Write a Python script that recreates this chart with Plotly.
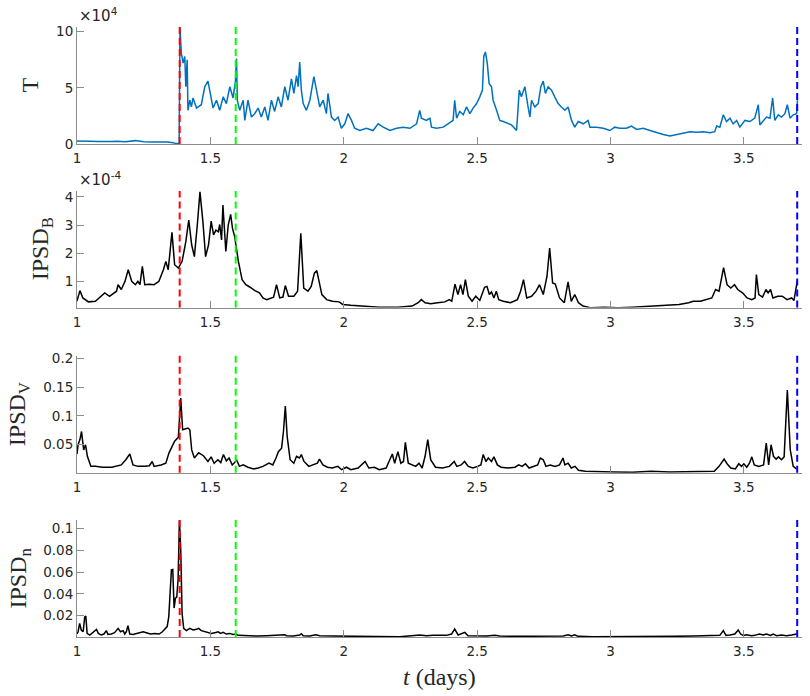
import plotly.graph_objects as go

# ---------------- data ----------------
x_tick_vals = [1, 1.5, 2, 2.5, 3, 3.5]
x_tick_text = ["1", "1.5", "2", "2.5", "3", "3.5"]

event_t = [1.385, 1.595, 3.700]
event_colors = ["#ff0000", "#00ff00", "#0000ff"]

# Panel 1: T (values in units of 1e4)
T_t = [1.000, 1.020, 1.050, 1.080, 1.100, 1.130, 1.150, 1.180, 1.220, 1.250,
       1.280, 1.310, 1.340, 1.360, 1.370, 1.383, 1.386, 1.391, 1.398, 1.404,
       1.408, 1.413, 1.416, 1.423, 1.429, 1.435, 1.448, 1.466, 1.479, 1.491,
       1.498, 1.510, 1.523, 1.535, 1.548, 1.560, 1.573, 1.585, 1.594, 1.598,
       1.601, 1.610, 1.623, 1.629, 1.641, 1.654, 1.666, 1.679, 1.691, 1.704,
       1.716, 1.729, 1.741, 1.754, 1.766, 1.779, 1.791, 1.804, 1.813, 1.823,
       1.829, 1.835, 1.841, 1.848, 1.860, 1.873, 1.888, 1.898, 1.910, 1.923,
       1.935, 1.941, 1.954, 1.966, 1.979, 1.991, 2.004, 2.016, 2.029, 2.041,
       2.060, 2.085, 2.110, 2.129, 2.148, 2.173, 2.198, 2.223, 2.248, 2.273,
       2.285, 2.291, 2.310, 2.323, 2.329, 2.348, 2.373, 2.391, 2.410, 2.416,
       2.423, 2.435, 2.448, 2.460, 2.473, 2.485, 2.498, 2.510, 2.520, 2.525,
       2.531, 2.538, 2.545, 2.554, 2.560, 2.573, 2.585, 2.598, 2.616, 2.629,
       2.648, 2.658, 2.666, 2.679, 2.691, 2.698, 2.704, 2.716, 2.729, 2.739,
       2.748, 2.756, 2.766, 2.779, 2.791, 2.804, 2.816, 2.829, 2.841, 2.854,
       2.866, 2.879, 2.898, 2.916, 2.923, 2.948, 2.973, 2.998, 3.016, 3.035,
       3.060, 3.079, 3.098, 3.123, 3.148, 3.173, 3.198, 3.223, 3.248, 3.273,
       3.298, 3.323, 3.348, 3.373, 3.391, 3.398, 3.410, 3.423, 3.435, 3.448,
       3.460, 3.473, 3.485, 3.504, 3.523, 3.541, 3.554, 3.560, 3.573, 3.585,
       3.598, 3.608, 3.616, 3.629, 3.641, 3.654, 3.663, 3.673, 3.685, 3.698,
       3.701]
T_val = [0.27, 0.28, 0.25, 0.22, 0.20, 0.22, 0.24, 0.20, 0.30, 0.20,
         0.18, 0.20, 0.18, 0.12, 0.05, 0.05, 10.40, 8.1, 7.2, 7.8,
         5.1, 7.5, 3.0, 3.9, 3.3, 4.1, 3.2, 3.5, 5.1, 5.6,
         4.7, 3.2, 3.9, 3.0, 4.2, 3.6, 5.1, 4.1, 5.6, 7.6,
         3.9, 3.0, 3.9, 2.1, 3.9, 2.4, 2.7, 3.2, 2.4, 3.3,
         2.1, 3.9, 2.9, 4.2, 3.3, 5.1, 3.9, 5.8, 4.5, 6.1,
         5.1, 7.3, 4.8, 3.6, 3.0, 3.9, 6.0, 4.8, 3.3, 3.9,
         2.7, 4.5, 2.4, 2.1, 2.4, 1.4, 1.8, 2.7, 2.1, 1.4,
         1.2, 1.4, 1.2, 1.8, 1.5, 1.2, 1.4, 1.5, 1.4, 1.8,
         3.0, 2.3, 2.1, 2.3, 1.5, 1.4, 1.5, 1.8, 2.1, 3.9,
         2.3, 2.9, 2.6, 3.3, 2.7, 3.2, 3.6, 4.2, 4.8, 7.8,
         8.2, 7.2, 5.4, 5.1, 3.9, 3.0, 2.1, 2.0, 1.8, 1.7,
         1.2, 4.8, 4.2, 5.1, 3.3, 2.4, 3.9, 3.3, 3.6, 5.1,
         5.6, 4.5, 5.1, 4.8, 4.2, 3.6, 3.3, 3.0, 3.3, 2.1,
         1.5, 2.0, 1.8, 2.1, 1.5, 1.5, 1.4, 1.2, 1.5, 1.4,
         1.4, 1.6, 1.3, 1.4, 1.2, 0.99, 0.84, 0.72, 0.84, 0.99,
         1.1, 1.05, 1.1, 1.0, 1.1, 1.6, 1.5, 2.6, 2.0, 2.3,
         1.8, 2.1, 1.5, 2.1, 2.0, 2.3, 3.5, 1.7, 2.1, 2.4,
         2.3, 4.1, 2.1, 2.6, 2.4, 2.7, 3.5, 2.3, 2.6, 2.7,
         3.9]

# Panel 2: IPSD_B (values in units of 1e-4)
B_t = [1.000, 1.011, 1.022, 1.043, 1.069, 1.104, 1.122, 1.148, 1.154, 1.166,
       1.180, 1.192, 1.205, 1.219, 1.228, 1.236, 1.245, 1.254, 1.271, 1.289,
       1.307, 1.324, 1.333, 1.342, 1.356, 1.366, 1.380, 1.394, 1.408, 1.419,
       1.430, 1.440, 1.451, 1.461, 1.472, 1.482, 1.493, 1.503, 1.512, 1.521,
       1.530, 1.535, 1.542, 1.547, 1.558, 1.567, 1.576, 1.583, 1.591, 1.605,
       1.619, 1.633, 1.649, 1.667, 1.684, 1.697, 1.711, 1.725, 1.737, 1.748,
       1.760, 1.772, 1.781, 1.793, 1.813, 1.827, 1.839, 1.850, 1.866, 1.878,
       1.890, 1.899, 1.908, 1.918, 1.936, 1.957, 1.983, 1.996, 2.027, 2.080,
       2.133, 2.203, 2.256, 2.279, 2.291, 2.305, 2.326, 2.352, 2.379, 2.396,
       2.405, 2.417, 2.428, 2.438, 2.447, 2.456, 2.467, 2.481, 2.495, 2.510,
       2.528, 2.537, 2.546, 2.554, 2.563, 2.572, 2.581, 2.598, 2.625, 2.651,
       2.663, 2.674, 2.686, 2.704, 2.721, 2.734, 2.748, 2.762, 2.772, 2.783,
       2.793, 2.809, 2.827, 2.841, 2.853, 2.866, 2.880, 2.897, 2.924, 2.976,
       3.029, 3.082, 3.152, 3.205, 3.257, 3.293, 3.310, 3.337, 3.363, 3.380,
       3.394, 3.407, 3.424, 3.437, 3.451, 3.465, 3.477, 3.495, 3.512, 3.530,
       3.542, 3.547, 3.556, 3.570, 3.583, 3.591, 3.600, 3.609, 3.627, 3.644,
       3.662, 3.679, 3.688, 3.700]
B_val = [0.30, 0.67, 0.41, 0.27, 0.29, 0.59, 0.47, 0.65, 0.88, 0.71,
         1.00, 1.41, 1.00, 0.88, 1.00, 0.88, 1.53, 0.88, 0.90, 0.88,
         1.00, 1.41, 1.71, 1.41, 2.74, 1.59, 1.47, 1.71, 2.41, 3.18,
         2.29, 1.88, 3.00, 4.18, 3.12, 1.88, 2.29, 3.14, 2.65, 2.82,
         2.76, 3.02, 2.47, 3.71, 2.06, 3.00, 3.38, 2.88, 2.59, 1.71,
         1.06, 0.88, 0.79, 0.67, 0.59, 0.41, 0.35, 0.41, 0.44, 0.88,
         0.41, 0.44, 0.85, 0.47, 0.47, 0.65, 2.71, 0.76, 0.65, 0.82,
         1.29, 1.38, 1.00, 0.53, 0.35, 0.29, 0.27, 0.18, 0.15, 0.12,
         0.08, 0.08, 0.12, 0.24, 0.35, 0.24, 0.20, 0.24, 0.27, 0.35,
         0.29, 0.90, 0.53, 0.88, 0.53, 1.06, 0.47, 0.29, 0.47, 0.32,
         0.79, 0.82, 0.53, 0.62, 0.41, 0.65, 0.35, 0.29, 0.24, 0.35,
         0.65, 1.06, 0.41, 0.47, 0.65, 0.88, 0.53, 1.18, 2.18, 0.94,
         0.90, 0.41, 0.24, 0.98, 0.29, 0.53, 0.24, 0.12, 0.06, 0.08,
         0.06, 0.08, 0.12, 0.14, 0.18, 0.24, 0.29, 0.29, 0.35, 0.41,
         0.71, 0.65, 1.49, 0.88, 0.76, 0.88, 0.71, 0.59, 0.41, 0.35,
         0.41, 1.24, 0.53, 0.44, 0.71, 0.59, 0.71, 0.41, 0.47, 0.47,
         0.35, 0.41, 0.32, 1.00]

# Panel 3: IPSD_V
V_t = [1.000, 1.004, 1.011, 1.017, 1.025, 1.032, 1.039, 1.052, 1.069, 1.096,
       1.131, 1.166, 1.183, 1.198, 1.210, 1.228, 1.254, 1.271, 1.282, 1.289,
       1.315, 1.333, 1.345, 1.356, 1.366, 1.380, 1.389, 1.396, 1.405, 1.416,
       1.423, 1.430, 1.440, 1.456, 1.474, 1.491, 1.503, 1.514, 1.528, 1.539,
       1.549, 1.560, 1.570, 1.582, 1.591, 1.598, 1.609, 1.623, 1.641, 1.662,
       1.679, 1.697, 1.720, 1.734, 1.746, 1.755, 1.767, 1.774, 1.781, 1.788,
       1.799, 1.813, 1.823, 1.834, 1.841, 1.851, 1.869, 1.887, 1.901, 1.909,
       1.922, 1.939, 1.957, 1.978, 1.992, 2.010, 2.027, 2.054, 2.080, 2.094,
       2.115, 2.133, 2.159, 2.182, 2.191, 2.203, 2.214, 2.224, 2.231, 2.242,
       2.256, 2.270, 2.282, 2.294, 2.305, 2.315, 2.326, 2.344, 2.370, 2.396,
       2.414, 2.424, 2.440, 2.453, 2.467, 2.484, 2.502, 2.514, 2.523, 2.533,
       2.542, 2.554, 2.563, 2.576, 2.590, 2.616, 2.642, 2.656, 2.669, 2.681,
       2.695, 2.713, 2.727, 2.737, 2.748, 2.758, 2.774, 2.792, 2.809, 2.822,
       2.829, 2.841, 2.853, 2.867, 2.880, 2.906, 2.959, 3.011, 3.082, 3.152,
       3.222, 3.293, 3.345, 3.389, 3.407, 3.416, 3.426, 3.437, 3.451, 3.468,
       3.481, 3.491, 3.500, 3.511, 3.521, 3.530, 3.539, 3.556, 3.574, 3.584,
       3.593, 3.602, 3.611, 3.621, 3.630, 3.641, 3.651, 3.663, 3.674, 3.685,
       3.697]
V_val = [0.034, 0.050, 0.059, 0.073, 0.041, 0.050, 0.030, 0.0125, 0.0125, 0.011,
         0.011, 0.015, 0.024, 0.034, 0.015, 0.0125, 0.0125, 0.0136, 0.021, 0.0125,
         0.015, 0.018, 0.036, 0.047, 0.056, 0.063, 0.131, 0.076, 0.077, 0.079,
         0.076, 0.041, 0.027, 0.036, 0.031, 0.021, 0.029, 0.018, 0.024, 0.019,
         0.033, 0.022, 0.027, 0.015, 0.019, 0.024, 0.0125, 0.015, 0.011, 0.008,
         0.0096, 0.0125, 0.018, 0.015, 0.027, 0.038, 0.044, 0.073, 0.117, 0.064,
         0.024, 0.018, 0.030, 0.027, 0.033, 0.021, 0.0125, 0.015, 0.018, 0.025,
         0.015, 0.011, 0.0096, 0.0125, 0.0067, 0.011, 0.0067, 0.0096, 0.021, 0.0096,
         0.011, 0.0067, 0.0096, 0.034, 0.018, 0.038, 0.018, 0.021, 0.054, 0.018,
         0.015, 0.0125, 0.018, 0.0096, 0.030, 0.059, 0.024, 0.011, 0.0096, 0.0125,
         0.021, 0.0125, 0.015, 0.021, 0.0125, 0.0096, 0.0125, 0.015, 0.033, 0.021,
         0.027, 0.021, 0.029, 0.015, 0.011, 0.0096, 0.011, 0.015, 0.0125, 0.017,
         0.0096, 0.0125, 0.015, 0.027, 0.024, 0.0125, 0.015, 0.0125, 0.015, 0.027,
         0.015, 0.018, 0.0096, 0.0125, 0.0056, 0.0039, 0.0027, 0.0027, 0.0021, 0.0039,
         0.0027, 0.0027, 0.0033, 0.0039, 0.0125, 0.018, 0.025, 0.017, 0.0096, 0.008,
         0.017, 0.0125, 0.017, 0.011, 0.018, 0.029, 0.015, 0.0125, 0.015, 0.053,
         0.015, 0.050, 0.030, 0.025, 0.029, 0.024, 0.029, 0.145, 0.041, 0.0125,
         0.008]

# Panel 4: IPSD_n
N_t = [1.000, 1.004, 1.010, 1.016, 1.023, 1.029, 1.033, 1.038, 1.048, 1.058,
       1.066, 1.073, 1.080, 1.091, 1.101, 1.110, 1.116, 1.129, 1.141, 1.154,
       1.163, 1.173, 1.179, 1.185, 1.191, 1.198, 1.210, 1.229, 1.248, 1.260,
       1.275, 1.291, 1.308, 1.320, 1.329, 1.338, 1.344, 1.349, 1.354, 1.359,
       1.364, 1.369, 1.374, 1.379, 1.384, 1.389, 1.394, 1.400, 1.410, 1.423,
       1.435, 1.448, 1.456, 1.466, 1.479, 1.491, 1.504, 1.520, 1.529, 1.538,
       1.548, 1.560, 1.573, 1.585, 1.595, 1.604, 1.635, 1.673, 1.710, 1.748,
       1.779, 1.785, 1.810, 1.835, 1.841, 1.848, 1.873, 1.895, 1.910, 1.960,
       2.023, 2.085, 2.148, 2.210, 2.285, 2.310, 2.335, 2.360, 2.385, 2.404,
       2.416, 2.429, 2.441, 2.454, 2.466, 2.498, 2.535, 2.566, 2.585, 2.648,
       2.710, 2.773, 2.823, 2.841, 2.854, 2.866, 2.879, 2.935, 2.998, 3.085,
       3.160, 3.235, 3.310, 3.385, 3.410, 3.423, 3.433, 3.448, 3.466, 3.479,
       3.488, 3.498, 3.510, 3.529, 3.541, 3.558, 3.573, 3.585, 3.600, 3.610,
       3.623, 3.641, 3.660, 3.679, 3.698]
N_val = [0.0032, 0.0053, 0.013, 0.0069, 0.0053, 0.019, 0.0197, 0.0038, 0.0023, 0.0044,
         0.0069, 0.0075, 0.0038, 0.0023, 0.0032, 0.0063, 0.0029, 0.0032, 0.0044, 0.0084,
         0.0053, 0.0063, 0.0032, 0.0053, 0.0108, 0.0032, 0.0029, 0.0038, 0.0053, 0.0044,
         0.0032, 0.0038, 0.0032, 0.0053, 0.0075, 0.010, 0.019, 0.0435, 0.062, 0.0624,
         0.027, 0.036, 0.037, 0.053, 0.1076, 0.080, 0.022, 0.0084, 0.0063, 0.0084,
         0.0069, 0.0075, 0.0084, 0.0063, 0.0053, 0.0044, 0.0038, 0.0047, 0.0053, 0.0038,
         0.0047, 0.0032, 0.0038, 0.0029, 0.0032, 0.0020, 0.0017, 0.0014, 0.0017, 0.0020,
         0.0026, 0.0017, 0.0014, 0.0023, 0.0035, 0.0017, 0.0014, 0.0026, 0.0017, 0.0014,
         0.0011, 0.0011, 0.0007, 0.0007, 0.0023, 0.0017, 0.0020, 0.0023, 0.0020, 0.0032,
         0.0078, 0.0023, 0.0032, 0.0047, 0.0017, 0.0014, 0.0014, 0.0020, 0.0014, 0.0011,
         0.0014, 0.0014, 0.0014, 0.0026, 0.0014, 0.0026, 0.0011, 0.0007, 0.0007, 0.0007,
         0.0011, 0.0011, 0.0014, 0.0014, 0.0020, 0.0063, 0.0020, 0.0023, 0.0032, 0.0069,
         0.0032, 0.0020, 0.0026, 0.0017, 0.0020, 0.0032, 0.0023, 0.0032, 0.0020, 0.0032,
         0.0017, 0.0023, 0.0017, 0.0023, 0.0032]

for a, b in [(T_t, T_val), (B_t, B_val), (V_t, V_val), (N_t, N_val)]:
    assert len(a) == len(b), (len(a), len(b))

panels = [
    dict(t=T_t, v=T_val, color="#0072BD", yrange=[0, 10.42],
         ytickvals=[0, 5, 10], yticktext=["0", "5", "10"],
         title="T", exp="×10<sup>4</sup>", title_x=30),
    dict(t=B_t, v=B_val, color="#000000", yrange=[0.07, 4.21],
         ytickvals=[1, 2, 3, 4], yticktext=["1", "2", "3", "4"],
         title="IPSD<sub>B</sub>", exp="×10<sup>-4</sup>", title_x=42),
    dict(t=V_t, v=V_val, color="#000000", yrange=[0.0015, 0.2045],
         ytickvals=[0.05, 0.1, 0.15, 0.2], yticktext=["0.05", "0.1", "0.15", "0.2"],
         title="IPSD<sub>V</sub>", exp=None, title_x=19),
    dict(t=N_t, v=N_val, color="#000000", yrange=[0.0005, 0.1077],
         ytickvals=[0.02, 0.04, 0.06, 0.08, 0.1],
         yticktext=["0.02", "0.04", "0.06", "0.08", "0.1"],
         title="IPSD<sub>n</sub>", exp=None, title_x=19),
]

# ---------------- layout helpers ----------------
W, H = 810, 696
ML, MR, MT, MB = 77, 8, 27, 59
PW, PH = W - ML - MR, H - MT - MB
panel_px = [(27, 144), (191, 307.5), (355.7, 472.7), (520, 637)]
domains = [[(H - MB - b) / PH, (H - MB - t) / PH] for t, b in panel_px]
domains[0][1] = 1.0
domains[3][0] = 0.0

AX_COLOR = "#8c8c8c"
TICK_FONT = dict(family="DejaVu Sans", size=13.5, color="#262626")
EXP_FONT = dict(family="DejaVu Sans", size=15, color="#262626")
TITLE_FONT = dict(family="Liberation Serif", size=24, color="#262626")

fig = go.Figure()
annotations = []
shapes = []
layout = {}

for i, p in enumerate(panels):
    n = i + 1
    sfx = "" if n == 1 else str(n)
    fig.add_trace(go.Scatter(x=p["t"], y=p["v"], mode="lines",
                             line=dict(color=p["color"], width=1.5),
                             xaxis="x" + sfx, yaxis="y" + sfx,
                             showlegend=False, hoverinfo="skip"))
    layout["xaxis" + sfx] = dict(
        domain=[0, 1], anchor="y" + sfx, range=[1, 3.718],
        tickmode="array", tickvals=x_tick_vals, ticktext=x_tick_text,
        ticks="inside", ticklen=7, tickwidth=1, tickcolor=AX_COLOR,
        ticklabelstandoff=2,
        showline=True, linecolor=AX_COLOR, linewidth=1,
        showgrid=False, zeroline=False, tickfont=TICK_FONT,
    )
    layout["yaxis" + sfx] = dict(
        domain=domains[i], anchor="x" + sfx, range=p["yrange"],
        tickmode="array", tickvals=p["ytickvals"], ticktext=p["yticktext"],
        ticks="inside", ticklen=7, tickwidth=1, tickcolor=AX_COLOR,
        showline=True, linecolor=AX_COLOR, linewidth=1,
        showgrid=False, zeroline=False, tickfont=TICK_FONT,
    )
    for et, ec in zip(event_t, event_colors):
        shapes.append(dict(type="line", xref="x" + sfx, yref="y" + sfx + " domain",
                           x0=et, x1=et, y0=0, y1=1, layer="above",
                           line=dict(color=ec, width=2, dash="7px,4px")))
    # y-axis label
    yc = (domains[i][0] + domains[i][1]) / 2
    annotations.append(dict(text=p["title"], xref="paper", yref="paper",
                            x=(p["title_x"] - ML) / PW, y=yc,
                            xanchor="center", yanchor="middle", textangle=-90,
                            showarrow=False, font=TITLE_FONT))
    if p["exp"]:
        annotations.append(dict(text=p["exp"], xref="x" + sfx + " domain",
                                yref="y" + sfx + " domain", x=0, y=1,
                                xanchor="left", yanchor="bottom", yshift=0,
                                showarrow=False, font=EXP_FONT))

annotations.append(dict(text="<i>t</i> (days)", xref="paper", yref="paper",
                        x=0.5, y=(H - MB - 677) / PH, xanchor="center",
                        yanchor="middle", showarrow=False, font=TITLE_FONT))

fig.update_layout(
    width=W, height=H,
    margin=dict(l=ML, r=MR, t=MT, b=MB),
    paper_bgcolor="white", plot_bgcolor="white",
    annotations=annotations, shapes=shapes, **layout,
)

fig.write_html("out.html")
